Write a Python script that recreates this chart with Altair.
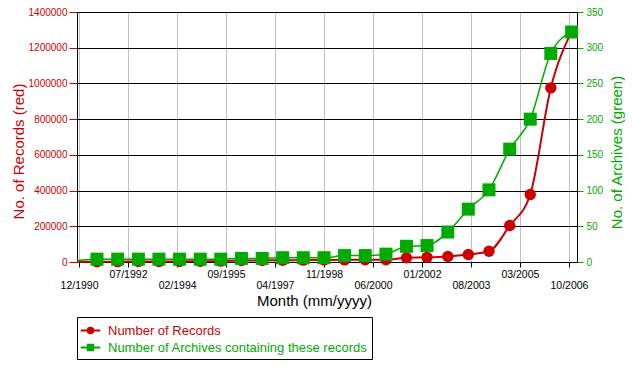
import altair as alt
import pandas as pd

RED = "#cc0000"
GREEN = "#00aa00"
FONT = "Liberation Sans"

# ---- data ----
LINE_START_DATE = "1990-11-07"
RECORDS_START = 500
ARCHIVES_START = 2

MARKER_DATES = [
    "1991-07-01", "1992-03-01", "1992-11-01", "1993-07-01", "1994-03-01", "1994-11-01",
    "1995-07-01", "1996-03-01", "1996-11-01", "1997-07-01", "1998-03-01", "1998-11-01",
    "1999-07-01", "2000-03-01", "2000-11-01", "2001-07-01", "2002-03-01", "2002-11-01",
    "2003-07-01", "2004-03-01", "2004-11-01", "2005-07-01", "2006-03-01", "2006-11-01",
]
RECORDS = [
    1500, 2000, 2500, 3000, 3500, 4000,
    5000, 8000, 9000, 9500, 10500, 11000,
    12000, 12500, 13000, 24000, 26000, 31000,
    42000, 60000, 204000, 378000, 975000, 1290000,
]
ARCHIVES = [
    4, 4, 4, 4, 4, 4,
    4, 5, 5, 6, 6, 6,
    9, 9, 11, 22, 23, 42,
    74, 101, 158, 200, 292, 322,
]

SERIES = ["Number of Records", "Number of Archives containing these records"]

X_TICKS = [(1990, 12), (1992, 7), (1994, 2), (1995, 9), (1997, 4), (1998, 11),
           (2000, 6), (2002, 1), (2003, 8), (2005, 3), (2006, 10)]
Y_LEFT_TICKS = [0, 200000, 400000, 600000, 800000, 1000000, 1200000, 1400000]
Y_RIGHT_TICKS = [0, 50, 100, 150, 200, 250, 300, 350]

df = pd.DataFrame({
    "date": [LINE_START_DATE] + MARKER_DATES,
    "records": [RECORDS_START] + RECORDS,
    "archives": [ARCHIVES_START] + ARCHIVES,
    "is_marker": [False] + [True] * len(MARKER_DATES),
})

x_enc = alt.X(
    "date:T",
    scale=alt.Scale(
        type="utc",
        domain=[alt.DateTime(year=1990, month=11, date=7, utc=True),
                alt.DateTime(year=2007, month=1, date=4, utc=True)],
    ),
    axis=alt.Axis(
        values=[alt.DateTime(year=y, month=m, date=1, utc=True) for y, m in X_TICKS],
        labelExpr="utcFormat(datum.value, '%m/%Y')",
        labelPadding={"expr": "utcmonth(datum.value) % 2 == 1 ? 13 : 2"},
        labelFontSize=10.5,
        labelColor="black",
        labelFont=FONT,
        tickSize=5,
        tickColor="black",
        domainColor="black",
        grid=True,
        gridColor="#c0c0c0",
        title="Month (mm/yyyy)",
        titleFont=FONT,
        titleFontSize=15,
        titleFontWeight="normal",
        titleColor="black",
        titleX=237,
        titleY=43,
        titleBaseline="alphabetic",
        labelOverlap=False,
    ),
)

y_left = alt.Y(
    "records:Q",
    scale=alt.Scale(domain=[0, 1400000], nice=False),
    axis=alt.Axis(
        values=Y_LEFT_TICKS,
        format="d",
        labelColor=RED,
        labelFont=FONT,
        labelFontSize=10,
        labelPadding=2,
        tickColor=RED,
        tickSize=8,
        domainColor="black",
        grid=True,
        gridColor="black",
        title="No. of Records (red)",
        titleColor=RED,
        titleFont=FONT,
        titleFontSize=15,
        titleFontWeight="normal",
        titleAngle=270,
        titleAlign="center",
        titleBaseline="alphabetic",
        titleX=-54,
        titleY=139,
    ),
)

y_right = alt.Y(
    "archives:Q",
    scale=alt.Scale(domain=[0, 350], nice=False),
    axis=alt.Axis(
        orient="right",
        values=Y_RIGHT_TICKS,
        format="d",
        labelColor=GREEN,
        labelFont=FONT,
        labelFontSize=10,
        labelPadding=3,
        tickColor=GREEN,
        tickSize=6,
        domainColor="black",
        grid=False,
        title="No. of Archives (green)",
        titleColor=GREEN,
        titleFont=FONT,
        titleFontSize=15,
        titleFontWeight="normal",
        titleAngle=270,
        titleAlign="center",
        titleBaseline="alphabetic",
        titleX=44,
        titleY=140,
    ),
)

CIRCLE_PATH = "M-1.15,0L1.15,0M0.33,0A0.33,0.33,0,1,1,-0.33,0A0.33,0.33,0,1,1,0.33,0Z"
SQUARE_PATH = "M-1.15,0L1.15,0M-0.32,-0.32L0.32,-0.32L0.32,0.32L-0.32,0.32Z"
is_rec = "datum.value == 'Number of Records'"

color_enc = alt.Color(
    "series:N",
    scale=alt.Scale(domain=SERIES, range=[RED, GREEN]),
    legend=alt.Legend(
        title=None,
        orient="none",
        legendX=0,
        legendY=305,
        direction="vertical",
        strokeColor="black",
        padding=4,
        rowPadding=0,
        labelFont=FONT,
        labelFontSize=13,
        labelLimit=800,
        labelOffset=8,
        labelColor={"expr": f"{is_rec} ? '{RED}' : '{GREEN}'"},
        symbolType={"expr": f"{is_rec} ? '{CIRCLE_PATH}' : '{SQUARE_PATH}'"},
        symbolStrokeColor={"expr": f"{is_rec} ? '{RED}' : '{GREEN}'"},
        symbolStrokeWidth=2,
        symbolSize=289,
        symbolOpacity=1,
    ),
)

base = alt.Chart(df)

red_line = base.mark_line(color=RED, strokeWidth=2, interpolate="monotone").encode(x=x_enc, y=y_left)
red_pts = (
    base.transform_filter("datum.is_marker")
    .transform_calculate(series="'Number of Records'")
    .mark_point(shape="circle", filled=True, size=130, opacity=1)
    .encode(x=x_enc, y=y_left, color=color_enc)
)
green_line = base.mark_line(color=GREEN, strokeWidth=1.5, interpolate="monotone").encode(x=x_enc, y=y_right)
green_pts = (
    base.transform_filter("datum.is_marker")
    .transform_calculate(series="'Number of Archives containing these records'")
    .mark_point(shape="square", filled=True, size=169, opacity=1)
    .encode(x=x_enc, y=y_right, color=color_enc)
)

chart = (
    alt.layer(alt.layer(red_line, red_pts), alt.layer(green_line, green_pts))
    .resolve_scale(y="independent")
    .properties(
        width=500,
        height=250,
        padding={"left": 69, "top": 4, "right": 48, "bottom": 98},
        autosize=alt.AutoSizeParams(type="none"),
    )
    .configure(font=FONT)
    .configure_view(stroke="black", strokeWidth=1)
)

chart.save("out.html", embed_options={"renderer": "svg", "actions": False})
